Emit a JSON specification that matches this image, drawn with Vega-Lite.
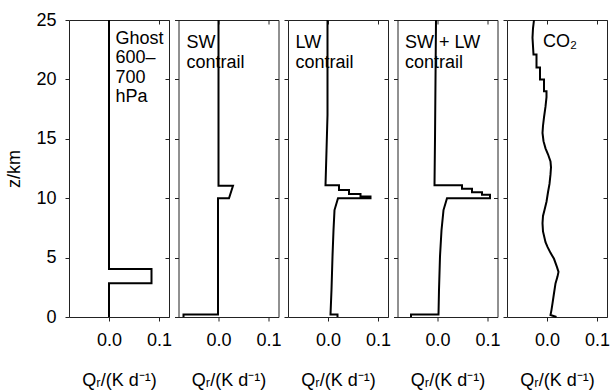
{
  "$schema": "https://vega.github.io/schema/vega-lite/v6.json",
  "background": "white",
  "padding": {"left": 5, "top": 10, "right": 0, "bottom": 0},
  "bounds": "flush",
  "spacing": 9.5,
  "datasets": {
    "profiles": [
      {"p": "ghost", "i": 1, "x": 0, "z": 0},
      {"p": "ghost", "i": 2, "x": 0, "z": 2.85},
      {"p": "ghost", "i": 3, "x": 0.085, "z": 2.85},
      {"p": "ghost", "i": 4, "x": 0.085, "z": 4.05},
      {"p": "ghost", "i": 5, "x": 0, "z": 4.05},
      {"p": "ghost", "i": 6, "x": 0, "z": 25},

      {"p": "sw", "i": 1, "x": -0.07, "z": 0},
      {"p": "sw", "i": 2, "x": -0.07, "z": 0.2},
      {"p": "sw", "i": 3, "x": -0.001, "z": 0.2},
      {"p": "sw", "i": 4, "x": -0.001, "z": 10.0},
      {"p": "sw", "i": 5, "x": 0.021, "z": 10.0},
      {"p": "sw", "i": 6, "x": 0.029, "z": 11.05},
      {"p": "sw", "i": 7, "x": 0, "z": 11.05},
      {"p": "sw", "i": 8, "x": 0, "z": 25},

      {"p": "lw", "i": 1, "x": 0.019, "z": 0},
      {"p": "lw", "i": 2, "x": 0.019, "z": 0.2},
      {"p": "lw", "i": 3, "x": 0.005, "z": 0.2},
      {"p": "lw", "i": 4, "x": 0.007, "z": 2.3},
      {"p": "lw", "i": 5, "x": 0.009, "z": 5.1},
      {"p": "lw", "i": 6, "x": 0.011, "z": 7.3},
      {"p": "lw", "i": 7, "x": 0.013, "z": 9.0},
      {"p": "lw", "i": 8, "x": 0.02, "z": 10.0},
      {"p": "lw", "i": 9, "x": 0.085, "z": 10.0},
      {"p": "lw", "i": 10, "x": 0.085, "z": 10.15},
      {"p": "lw", "i": 11, "x": 0.065, "z": 10.15},
      {"p": "lw", "i": 12, "x": 0.065, "z": 10.35},
      {"p": "lw", "i": 13, "x": 0.042, "z": 10.35},
      {"p": "lw", "i": 14, "x": 0.042, "z": 10.7},
      {"p": "lw", "i": 15, "x": 0.022, "z": 10.7},
      {"p": "lw", "i": 16, "x": 0.022, "z": 11.1},
      {"p": "lw", "i": 17, "x": -0.005, "z": 11.1},
      {"p": "lw", "i": 18, "x": -0.003, "z": 14},
      {"p": "lw", "i": 19, "x": -0.001, "z": 17},
      {"p": "lw", "i": 20, "x": -0.001, "z": 25},

      {"p": "swlw", "i": 1, "x": -0.053, "z": 0},
      {"p": "swlw", "i": 2, "x": -0.053, "z": 0.2},
      {"p": "swlw", "i": 3, "x": 0.002, "z": 0.2},
      {"p": "swlw", "i": 4, "x": 0.003, "z": 2.3},
      {"p": "swlw", "i": 5, "x": 0.005, "z": 5.1},
      {"p": "swlw", "i": 6, "x": 0.008, "z": 7.3},
      {"p": "swlw", "i": 7, "x": 0.012, "z": 9.0},
      {"p": "swlw", "i": 8, "x": 0.019, "z": 10.0},
      {"p": "swlw", "i": 9, "x": 0.105, "z": 10.0},
      {"p": "swlw", "i": 10, "x": 0.105, "z": 10.3},
      {"p": "swlw", "i": 11, "x": 0.089, "z": 10.3},
      {"p": "swlw", "i": 12, "x": 0.089, "z": 10.5},
      {"p": "swlw", "i": 13, "x": 0.069, "z": 10.5},
      {"p": "swlw", "i": 14, "x": 0.069, "z": 10.8},
      {"p": "swlw", "i": 15, "x": 0.049, "z": 10.8},
      {"p": "swlw", "i": 16, "x": 0.049, "z": 11.1},
      {"p": "swlw", "i": 17, "x": -0.006, "z": 11.1},
      {"p": "swlw", "i": 18, "x": -0.005, "z": 15},
      {"p": "swlw", "i": 19, "x": -0.003, "z": 25},

      {"p": "co2", "i": 1, "x": 0.019, "z": 0},
      {"p": "co2", "i": 2, "x": 0.007, "z": 0.17},
      {"p": "co2", "i": 3, "x": 0.009, "z": 0.6},
      {"p": "co2", "i": 4, "x": 0.011, "z": 1.15},
      {"p": "co2", "i": 5, "x": 0.014, "z": 2.0},
      {"p": "co2", "i": 6, "x": 0.017, "z": 2.83},
      {"p": "co2", "i": 7, "x": 0.021, "z": 3.4},
      {"p": "co2", "i": 8, "x": 0.023, "z": 3.8},
      {"p": "co2", "i": 9, "x": 0.02, "z": 4.2},
      {"p": "co2", "i": 10, "x": 0.014, "z": 4.9},
      {"p": "co2", "i": 11, "x": 0.007, "z": 5.4},
      {"p": "co2", "i": 12, "x": 0.001, "z": 5.9},
      {"p": "co2", "i": 13, "x": -0.003, "z": 6.3},
      {"p": "co2", "i": 14, "x": -0.008, "z": 7.2},
      {"p": "co2", "i": 15, "x": -0.009, "z": 7.9},
      {"p": "co2", "i": 16, "x": -0.008, "z": 8.5},
      {"p": "co2", "i": 17, "x": -0.005, "z": 9.0},
      {"p": "co2", "i": 18, "x": -0.001, "z": 9.7},
      {"p": "co2", "i": 19, "x": 0.002, "z": 10.5},
      {"p": "co2", "i": 20, "x": 0.005, "z": 11.2},
      {"p": "co2", "i": 21, "x": 0.007, "z": 12.0},
      {"p": "co2", "i": 22, "x": 0.008, "z": 12.6},
      {"p": "co2", "i": 23, "x": 0.007, "z": 13.1},
      {"p": "co2", "i": 24, "x": 0.002, "z": 13.7},
      {"p": "co2", "i": 25, "x": -0.003, "z": 14.2},
      {"p": "co2", "i": 26, "x": -0.007, "z": 14.8},
      {"p": "co2", "i": 27, "x": -0.009, "z": 15.5},
      {"p": "co2", "i": 28, "x": -0.008, "z": 16.1},
      {"p": "co2", "i": 29, "x": -0.006, "z": 16.8},
      {"p": "co2", "i": 30, "x": -0.003, "z": 17.7},
      {"p": "co2", "i": 31, "x": -0.001, "z": 18.5},
      {"p": "co2", "i": 32, "x": -0.001, "z": 19.0},
      {"p": "co2", "i": 33, "x": -0.006, "z": 19.0},
      {"p": "co2", "i": 34, "x": -0.006, "z": 20.0},
      {"p": "co2", "i": 35, "x": -0.014, "z": 20.0},
      {"p": "co2", "i": 36, "x": -0.014, "z": 21.0},
      {"p": "co2", "i": 37, "x": -0.021, "z": 21.0},
      {"p": "co2", "i": 38, "x": -0.021, "z": 22.1},
      {"p": "co2", "i": 39, "x": -0.027, "z": 22.1},
      {"p": "co2", "i": 40, "x": -0.029, "z": 23.5},
      {"p": "co2", "i": 41, "x": -0.028, "z": 24.3},
      {"p": "co2", "i": 42, "x": -0.026, "z": 25}
    ]
  },
  "hconcat": [
    {
      "width": 100, "height": 297,
      "layer": [
        {
          "data": {"name": "profiles"},
          "transform": [{"filter": "datum.p === 'ghost'"}],
          "mark": {"type": "line", "color": "black", "strokeWidth": 2, "strokeCap": "butt", "strokeJoin": "miter"},
          "encoding": {
            "x": {"field": "x", "type": "quantitative", "scale": {"domain": [-0.08, 0.12], "nice": false, "zero": false}, "axis": {"values": [0, 0.1], "format": ".1f", "title": "Qᵣ/(K d⁻¹)"}},
            "y": {"field": "z", "type": "quantitative", "scale": {"domain": [0, 25], "nice": false}, "axis": {"values": [0, 5, 10, 15, 20, 25], "title": "z/km"}},
            "order": {"field": "i", "type": "quantitative"}
          }
        },
        {
          "data": {"values": [{"t": "Ghost\n600–\n700\nhPa"}]},
          "mark": {"type": "text", "align": "left", "baseline": "alphabetic", "lineBreak": "\n", "lineHeight": 19.5, "fontSize": 18, "font": "Liberation Sans", "color": "black"},
          "encoding": {
            "text": {"field": "t"},
            "x": {"datum": 0.013, "type": "quantitative", "axis": {"orient": "top", "values": [0, 0.1], "labels": false, "title": null, "tickSize": -4}},
            "y": {"datum": 23.0, "type": "quantitative", "axis": {"orient": "right", "values": [0, 5, 10, 15, 20, 25], "labels": false, "title": null, "tickSize": -4}}
          }
        }
      ],
      "resolve": {"axis": {"x": "independent", "y": "independent"}}
    },
    {
      "width": 100, "height": 297,
      "layer": [
        {
          "data": {"name": "profiles"},
          "transform": [{"filter": "datum.p === 'sw'"}],
          "mark": {"type": "line", "color": "black", "strokeWidth": 2, "strokeCap": "butt", "strokeJoin": "miter"},
          "encoding": {
            "x": {"field": "x", "type": "quantitative", "scale": {"domain": [-0.08, 0.12], "nice": false, "zero": false}, "axis": {"values": [0, 0.1], "format": ".1f", "title": "Qᵣ/(K d⁻¹)"}},
            "y": {"field": "z", "type": "quantitative", "scale": {"domain": [0, 25], "nice": false}, "axis": {"values": [0, 5, 10, 15, 20, 25], "labels": false, "title": null}},
            "order": {"field": "i", "type": "quantitative"}
          }
        },
        {
          "data": {"values": [{"t": "SW\ncontrail"}]},
          "mark": {"type": "text", "align": "left", "baseline": "alphabetic", "lineBreak": "\n", "lineHeight": 20, "fontSize": 18, "font": "Liberation Sans", "color": "black"},
          "encoding": {
            "text": {"field": "t"},
            "x": {"datum": -0.064, "type": "quantitative", "axis": {"orient": "top", "values": [0, 0.1], "labels": false, "title": null, "tickSize": -4}},
            "y": {"datum": 22.65, "type": "quantitative", "axis": {"orient": "right", "values": [0, 5, 10, 15, 20, 25], "labels": false, "title": null, "tickSize": -4}}
          }
        }
      ],
      "resolve": {"axis": {"x": "independent", "y": "independent"}}
    },
    {
      "width": 100, "height": 297,
      "layer": [
        {
          "data": {"name": "profiles"},
          "transform": [{"filter": "datum.p === 'lw'"}],
          "mark": {"type": "line", "color": "black", "strokeWidth": 2, "strokeCap": "butt", "strokeJoin": "miter"},
          "encoding": {
            "x": {"field": "x", "type": "quantitative", "scale": {"domain": [-0.08, 0.12], "nice": false, "zero": false}, "axis": {"values": [0, 0.1], "format": ".1f", "title": "Qᵣ/(K d⁻¹)"}},
            "y": {"field": "z", "type": "quantitative", "scale": {"domain": [0, 25], "nice": false}, "axis": {"values": [0, 5, 10, 15, 20, 25], "labels": false, "title": null}},
            "order": {"field": "i", "type": "quantitative"}
          }
        },
        {
          "data": {"values": [{"t": "LW\ncontrail"}]},
          "mark": {"type": "text", "align": "left", "baseline": "alphabetic", "lineBreak": "\n", "lineHeight": 20, "fontSize": 18, "font": "Liberation Sans", "color": "black"},
          "encoding": {
            "text": {"field": "t"},
            "x": {"datum": -0.065, "type": "quantitative", "axis": {"orient": "top", "values": [0, 0.1], "labels": false, "title": null, "tickSize": -4}},
            "y": {"datum": 22.65, "type": "quantitative", "axis": {"orient": "right", "values": [0, 5, 10, 15, 20, 25], "labels": false, "title": null, "tickSize": -4}}
          }
        }
      ],
      "resolve": {"axis": {"x": "independent", "y": "independent"}}
    },
    {
      "width": 100, "height": 297,
      "layer": [
        {
          "data": {"name": "profiles"},
          "transform": [{"filter": "datum.p === 'swlw'"}],
          "mark": {"type": "line", "color": "black", "strokeWidth": 2, "strokeCap": "butt", "strokeJoin": "miter"},
          "encoding": {
            "x": {"field": "x", "type": "quantitative", "scale": {"domain": [-0.08, 0.12], "nice": false, "zero": false}, "axis": {"values": [0, 0.1], "format": ".1f", "title": "Qᵣ/(K d⁻¹)"}},
            "y": {"field": "z", "type": "quantitative", "scale": {"domain": [0, 25], "nice": false}, "axis": {"values": [0, 5, 10, 15, 20, 25], "labels": false, "title": null}},
            "order": {"field": "i", "type": "quantitative"}
          }
        },
        {
          "data": {"values": [{"t": "SW + LW\ncontrail"}]},
          "mark": {"type": "text", "align": "left", "baseline": "alphabetic", "lineBreak": "\n", "lineHeight": 20, "fontSize": 18, "font": "Liberation Sans", "color": "black"},
          "encoding": {
            "text": {"field": "t"},
            "x": {"datum": -0.065, "type": "quantitative", "axis": {"orient": "top", "values": [0, 0.1], "labels": false, "title": null, "tickSize": -4}},
            "y": {"datum": 22.65, "type": "quantitative", "axis": {"orient": "right", "values": [0, 5, 10, 15, 20, 25], "labels": false, "title": null, "tickSize": -4}}
          }
        }
      ],
      "resolve": {"axis": {"x": "independent", "y": "independent"}}
    },
    {
      "width": 100, "height": 297,
      "layer": [
        {
          "data": {"name": "profiles"},
          "transform": [{"filter": "datum.p === 'co2'"}],
          "mark": {"type": "line", "color": "black", "strokeWidth": 2, "strokeCap": "butt", "strokeJoin": "miter"},
          "encoding": {
            "x": {"field": "x", "type": "quantitative", "scale": {"domain": [-0.08, 0.12], "nice": false, "zero": false}, "axis": {"values": [0, 0.1], "format": ".1f", "title": "Qᵣ/(K d⁻¹)"}},
            "y": {"field": "z", "type": "quantitative", "scale": {"domain": [0, 25], "nice": false}, "axis": {"values": [0, 5, 10, 15, 20, 25], "labels": false, "title": null}},
            "order": {"field": "i", "type": "quantitative"}
          }
        },
        {
          "data": {"values": [{"t": "CO₂"}]},
          "mark": {"type": "text", "align": "left", "baseline": "alphabetic", "fontSize": 18, "font": "Liberation Sans", "color": "black"},
          "encoding": {
            "text": {"field": "t"},
            "x": {"datum": -0.008, "type": "quantitative", "axis": {"orient": "top", "values": [0, 0.1], "labels": false, "title": null, "tickSize": -4}},
            "y": {"datum": 22.75, "type": "quantitative", "axis": {"orient": "right", "values": [0, 5, 10, 15, 20, 25], "labels": false, "title": null, "tickSize": -4}}
          }
        }
      ],
      "resolve": {"axis": {"x": "independent", "y": "independent"}}
    }
  ],
  "config": {
    "view": {"stroke": "#222", "strokeWidth": 1},
    "axis": {
      "domain": false, "grid": false, "ticks": true, "tickColor": "#222", "tickSize": 4,
      "labelFont": "Liberation Sans", "labelFontSize": 18, "labelColor": "black", "labelFlush": false,
      "titleFont": "Liberation Sans", "titleFontSize": 18, "titleFontWeight": "normal", "titleColor": "black"
    },
    "axisX": {"labelPadding": 10, "titlePadding": 22},
    "axisY": {"labelPadding": 9, "titlePadding": 12}
  }
}
